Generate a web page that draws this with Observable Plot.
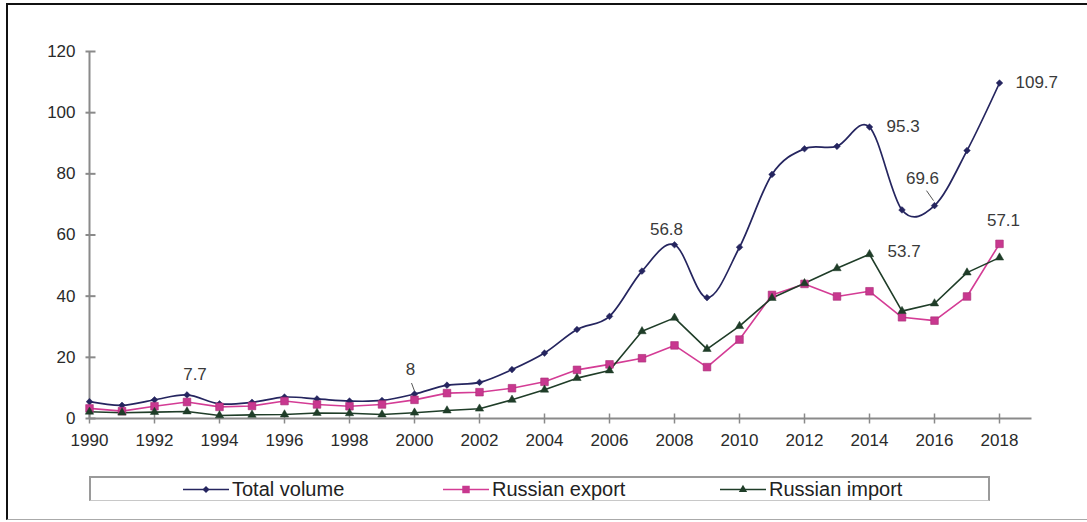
<!DOCTYPE html>
<html><head><meta charset="utf-8">
<script src="https://cdn.jsdelivr.net/npm/d3@7"></script>
<script src="https://cdn.jsdelivr.net/npm/@observablehq/plot@0.6"></script>
<style>
body{margin:0;background:#fff;font-family:"Liberation Sans",Arial,sans-serif;}
#wrap{position:relative;width:1087px;height:522px;overflow:hidden;background:#fff;}
#frame{position:absolute;left:6px;top:3px;width:1100px;height:514px;border-left:2px solid #111;border-top:2px solid #111;border-bottom:1px solid #aaa;pointer-events:none;}
#chart{position:absolute;left:0;top:0;}
#legend{position:absolute;left:89px;top:476px;width:897px;height:22px;border:2px solid #9a9a9a;border-bottom:1px solid #c8c8c8;}
.item{position:absolute;top:0;height:22px;display:flex;align-items:center;font-size:20px;color:#222;white-space:nowrap;}
.item svg{margin-right:3px;}
</style></head>
<body>
<div id="wrap">
  <div id="chart"></div>
  <div id="legend"></div>
  <div id="frame"></div>
</div>
<script>
// ---- data ----
const years = [1990,1991,1992,1993,1994,1995,1996,1997,1998,1999,2000,2001,2002,2003,2004,2005,2006,2007,2008,2009,2010,2011,2012,2013,2014,2015,2016,2017,2018];
const totalVolume = [5.5,4.3,6.1,7.7,4.8,5.3,7.0,6.4,5.7,5.9,8.0,10.9,11.8,16.0,21.4,29.1,33.4,48.2,56.8,39.5,56.0,79.8,88.2,89.0,95.3,68.2,69.6,87.6,109.7];
const russianExport = [3.3,2.4,4.0,5.4,3.8,4.1,5.7,4.6,4.0,4.6,6.1,8.3,8.6,9.9,12.0,15.9,17.7,19.7,23.9,16.8,25.8,40.4,44.0,39.9,41.6,33.1,32.0,39.9,57.1];
const russianImport = [2.2,1.9,2.1,2.3,1.0,1.2,1.3,1.8,1.7,1.3,1.9,2.6,3.2,6.1,9.4,13.2,15.7,28.5,32.9,22.7,30.2,39.4,44.2,49.1,53.7,35.1,37.6,47.7,52.6];
const seriesNames = ["Total volume","Russian export","Russian import"];
const yTicks = [0,20,40,60,80,100,120];
const xTicks = [1990,1992,1994,1996,1998,2000,2002,2004,2006,2008,2010,2012,2014,2016,2018];
const totalLabelYears = [1993,2000,2008,2014,2016,2018];
const exportLabelYears = [2018];
const importLabelYears = [2014];

// ---- styles ----
const C_TOTAL = "#25255f", C_EXP = "#d43c95", C_EXP_FILL = "#c8388f", C_IMP = "#1f3d28";
const AXIS = "#8a8a8a";
const data = years.map((y,i)=>({year:y,total:totalVolume[i],exp:russianExport[i],imp:russianImport[i]}));

const hTick = {draw(ctx){ctx.moveTo(-4,0);ctx.lineTo(6,0);}};
const vTick = {draw(ctx){ctx.moveTo(0,-5);ctx.lineTo(0,5);}};
const leader2000 = {draw(ctx){ctx.moveTo(-3,-11);ctx.lineTo(0,-3);}};
const leader2016 = {draw(ctx){ctx.moveTo(-8,-15);ctx.lineTo(-1,-5);}};

const labelStyle = {
  total: {
    1993:{dx:8,dy:-20,textAnchor:"middle"},
    2000:{dx:-4,dy:-24,textAnchor:"middle"},
    2008:{dx:-8,dy:-15,textAnchor:"middle"},
    2014:{dx:17,dy:0,textAnchor:"start"},
    2016:{dx:-12,dy:-27,textAnchor:"middle"},
    2018:{dx:16,dy:0,textAnchor:"start"}
  },
  exp: {2018:{dx:4,dy:-23,textAnchor:"middle"}},
  imp: {2014:{dx:18,dy:-3,textAnchor:"start"}}
};
function labelMarks(key, yrs){
  return yrs.map(yr=>{
    const s = labelStyle[key][yr];
    return Plot.text(data.filter(d=>d.year===yr), {x:"year", y:key, text:d=>String(d[key]),
      dx:s.dx, dy:s.dy, textAnchor:s.textAnchor, fontSize:17, fill:"#3a3a3a"});
  });
}

const chart = Plot.plot({
  width:1087, height:470,
  marginLeft:89, marginRight:55.5, marginTop:51, marginBottom:52,
  style:{fontFamily:"'Liberation Sans', Arial, sans-serif", fontSize:"17px", color:"#2a2a2a", background:"transparent"},
  x:{domain:[1990,2019], axis:null},
  y:{domain:[0,120], axis:null},
  marks:[
    Plot.axisY(yTicks, {tickSize:0, tickPadding:14, fontSize:17, label:null, tickFormat:d=>String(d)}),
    Plot.axisX(xTicks, {tickSize:0, tickPadding:15, fontSize:17, label:null, tickFormat:d=>String(d)}),
    Plot.ruleX([1990], {y1:0, y2:120, stroke:AXIS, strokeWidth:2}),
    Plot.ruleY([0], {x1:1990, x2:2019, stroke:AXIS, strokeWidth:2}),
    Plot.dot(yTicks, {x:()=>1990, y:d=>d, symbol:hTick, stroke:AXIS, strokeWidth:2, fill:"none"}),
    Plot.dot(xTicks, {x:d=>d, y:()=>0, symbol:vTick, stroke:AXIS, strokeWidth:1.5, fill:"none"}),
    Plot.line(data, {x:"year", y:"total", curve:"cardinal", tension:0, stroke:C_TOTAL, strokeWidth:1.7}),
    Plot.line(data, {x:"year", y:"exp", stroke:C_EXP, strokeWidth:1.6}),
    Plot.line(data, {x:"year", y:"imp", stroke:C_IMP, strokeWidth:1.6}),
    Plot.dot(data, {x:"year", y:"total", symbol:"diamond2", r:3, fill:C_TOTAL, stroke:C_TOTAL, strokeWidth:0.5}),
    Plot.dot(data, {x:"year", y:"exp", symbol:"square", r:4.3, fill:C_EXP_FILL, stroke:"#a82a74", strokeWidth:0.6}),
    Plot.dot(data, {x:"year", y:"imp", symbol:"triangle", r:3.1, fill:C_IMP, stroke:C_IMP, strokeWidth:0.5}),
    ...labelMarks("total", totalLabelYears),
    ...labelMarks("exp", exportLabelYears),
    ...labelMarks("imp", importLabelYears),
    Plot.dot(data.filter(d=>d.year===2000), {x:"year", y:"total", symbol:leader2000, stroke:"#555", strokeWidth:1, fill:"none"}),
    Plot.dot(data.filter(d=>d.year===2016), {x:"year", y:"total", symbol:leader2016, stroke:"#555", strokeWidth:1, fill:"none"})
  ]
});
document.getElementById("chart").appendChild(chart);

// ---- legend ----
const legendItems = [
  {name:seriesNames[0], color:C_TOTAL, fill:C_TOTAL, sym:d3.symbolDiamond2, size:31, left:92},
  {name:seriesNames[1], color:C_EXP, fill:C_EXP_FILL, sym:d3.symbolSquare, size:56, left:352},
  {name:seriesNames[2], color:C_IMP, fill:C_IMP, sym:d3.symbolTriangle, size:30, left:629}
];
const leg = document.getElementById("legend");
legendItems.forEach(it=>{
  const div = document.createElement("div");
  div.className = "item";
  div.style.left = it.left + "px";
  const path = d3.symbol(it.sym, it.size)();
  div.innerHTML = `<svg width="46" height="22"><line x1="0" x2="46" y1="11.5" y2="11.5" stroke="${it.color}" stroke-width="1.6"/><path d="${path}" transform="translate(23,11.5)" fill="${it.fill}"/></svg><span>${it.name}</span>`;
  leg.appendChild(div);
});
</script>
</body></html>
